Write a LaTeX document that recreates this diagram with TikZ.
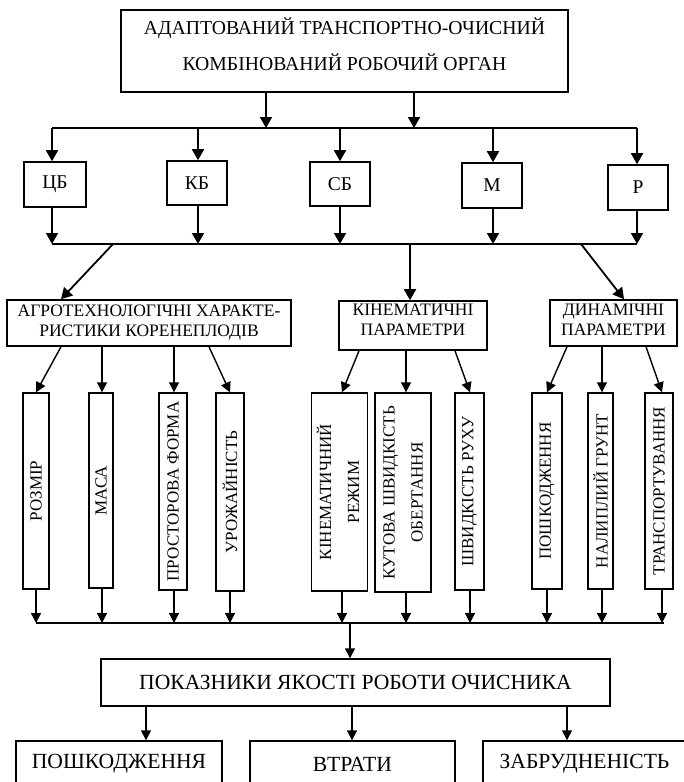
\documentclass[tikz,border=0pt]{standalone}
\usepackage{fontspec}
\setmainfont{Liberation Serif}
\usetikzlibrary{arrows.meta}
\begin{document}
\begin{tikzpicture}[x=1pt,y=-1pt,
  box/.style={draw, line width=1.6pt, inner sep=0pt, align=center},
  boxb/.style={draw, line width=1.4pt, inner sep=0pt, align=center},
  ln/.style={line width=1.8pt},
  arr/.style={line width=1.8pt, -{Triangle[length=11pt,width=12pt]}},
  lnb/.style={line width=1.4pt},
  arrb/.style={line width=1.4pt, -{Triangle[length=10pt,width=10pt]}},
  fTop/.style={font=\fontsize{19.7}{36}\selectfont},
  fSmall/.style={font=\fontsize{19.5}{22}\selectfont},
  fMid/.style={font=\fontsize{17.5}{20}\selectfont},
  fVert/.style={font=\fontsize{17}{28}\selectfont},
  fBot/.style={font=\fontsize{21.6}{24}\selectfont},
]
\useasboundingbox (0,0) rectangle (684,782);
\clip (0,0) rectangle (684,782);

% ---------- top ----------
\node[box, fTop, minimum width=447pt, minimum height=82pt, text depth=13pt] (top) at (344.5,51)
  {АДАПТОВАНИЙ ТРАНСПОРТНО-ОЧИСНИЙ\\КОМБІНОВАНИЙ РОБОЧИЙ ОРГАН};

\coordinate (u1) at (266,128);
\coordinate (u2) at (414,128);
\coordinate (t1) at (52,128);
\coordinate (t2) at (198,128);
\coordinate (t3) at (340,128);
\coordinate (t4) at (493,128);
\coordinate (t5) at (637,128);
\coordinate (s1) at (52,244);
\coordinate (s2) at (198,244);
\coordinate (s3) at (340,244);
\coordinate (s4) at (493,244);
\coordinate (s5) at (637,244);

\node[box, fSmall, minimum width=62pt, minimum height=45pt] (cb) at (55,184.5) {ЦБ};
\node[box, fSmall, minimum width=60pt, minimum height=44pt] (kb) at (197,183) {КБ};
\node[box, fSmall, minimum width=60pt, minimum height=44pt] (sb) at (340,184) {СБ};
\node[box, fSmall, minimum width=60pt, minimum height=45pt] (m) at (492,185.5) {М};
\node[box, fSmall, minimum width=60pt, minimum height=45pt] (r) at (638,187.5) {Р};

\draw[ln] (t1) -- (t5);
\draw[arr] (top.south -| u1) -- (u1);
\draw[arr] (top.south -| u2) -- (u2);
\draw[arr] (t1) -- (t1 |- cb.north);
\draw[arr] (t2) -- (t2 |- kb.north);
\draw[arr] (t3) -- (t3 |- sb.north);
\draw[arr] (t4) -- (t4 |- m.north);
\draw[arr] (t5) -- (t5 |- r.north);

\draw[arr] (cb.south -| s1) -- (s1);
\draw[arr] (kb.south -| s2) -- (s2);
\draw[arr] (sb.south -| s3) -- (s3);
\draw[arr] (m.south -| s4) -- (s4);
\draw[arr] (r.south -| s5) -- (s5);
\draw[ln] (s1) -- (s5);

% ---------- level 3 ----------
\node[box, fMid, minimum width=284pt, minimum height=46pt] (agro) at (149,323)
  {АГРОТЕХНОЛОГІЧНІ ХАРАКТЕ-\\РИСТИКИ КОРЕНЕПЛОДІВ};
\node[box, fMid, minimum width=148pt, minimum height=49pt, text depth=11pt] (kin) at (413,325.5)
  {КІНЕМАТИЧНІ\\ПАРАМЕТРИ};
\node[box, fMid, minimum width=127pt, minimum height=46pt, text depth=6pt] (dyn) at (613.5,323)
  {ДИНАМІЧНІ\\ПАРАМЕТРИ};

\coordinate (d1) at (113,244);
\coordinate (d2) at (410,244);
\coordinate (d3) at (581,244);
\coordinate (e1) at (61,0);
\coordinate (e3) at (624,0);
\draw[arr] (d1) -- (agro.north -| e1);
\draw[arr] (d2) -- (d2 |- kin.north);
\draw[arr] (d3) -- (dyn.north -| e3);

% ---------- level 4 ----------
\node[boxb, fVert, minimum width=26pt, minimum height=196pt] (rozmir) at (36,491) {\rotatebox{90}{РОЗМІР}};
\node[boxb, fVert, minimum width=24pt, minimum height=195pt] (masa) at (101,490.5) {\rotatebox{90}{МАСА}};
\node[boxb, fVert, minimum width=28pt, minimum height=197pt] (forma) at (173,491.5) {\rotatebox{90}{ПРОСТОРОВА ФОРМА}};
\node[boxb, fVert, minimum width=28pt, minimum height=198pt] (urozh) at (230,492) {\rotatebox{90}{УРОЖАЙНІСТЬ}};
\node[boxb, fVert, minimum width=47pt, minimum height=198pt] (rezhim) at (339.5,492)
  {\rotatebox{90}{\begin{tabular}{@{}c@{}}КІНЕМАТИЧНИЙ\\РЕЖИМ\end{tabular}}};
\node[boxb, fVert, minimum width=52pt, minimum height=199pt] (kutova) at (403,492.5)
  {\rotatebox{90}{\begin{tabular}{@{}c@{}}КУТОВА ШВИДКІСТЬ\\ОБЕРТАННЯ\end{tabular}}};
\node[boxb, fVert, minimum width=29pt, minimum height=197pt] (ruh) at (469.5,491.5) {\rotatebox{90}{ШВИДКІСТЬ РУХУ}};
\node[boxb, fVert, minimum width=30pt, minimum height=196pt] (poshk) at (547,491) {\rotatebox{90}{ПОШКОДЖЕННЯ}};
\node[boxb, fVert, minimum width=25pt, minimum height=196pt] (grunt) at (600.5,491) {\rotatebox{90}{НАЛИПЛИЙ ГРУНТ}};
\node[boxb, fVert, minimum width=28pt, minimum height=196pt] (trans) at (659,491) {\rotatebox{90}{ТРАНСПОРТУВАННЯ}};

% x positions of columns
\coordinate (c1) at (36,0);
\coordinate (c2) at (102,0);
\coordinate (c3) at (174,0);
\coordinate (c4) at (230,0);
\coordinate (c5) at (342,0);
\coordinate (c6) at (406,0);
\coordinate (c7) at (470,0);
\coordinate (c8) at (547,0);
\coordinate (c9) at (602,0);
\coordinate (c10) at (662,0);
% start points on parent boxes
\coordinate (g1) at (61,0);
\coordinate (g4) at (209,0);
\coordinate (g5) at (359,0);
\coordinate (g7) at (455,0);
\coordinate (g8) at (567,0);
\coordinate (g10) at (646,0);

\draw[arrb] (agro.south -| g1) -- (rozmir.north -| c1);
\draw[arrb] (agro.south -| c2) -- (masa.north -| c2);
\draw[arrb] (agro.south -| c3) -- (forma.north -| c3);
\draw[arrb] (agro.south -| g4) -- (urozh.north -| c4);
\draw[arrb] (kin.south -| g5) -- (rezhim.north -| c5);
\draw[arrb] (kin.south -| c6) -- (kutova.north -| c6);
\draw[arrb] (kin.south -| g7) -- (ruh.north -| c7);
\draw[arrb] (dyn.south -| g8) -- (poshk.north -| c8);
\draw[arrb] (dyn.south -| c9) -- (grunt.north -| c9);
\draw[arrb] (dyn.south -| g10) -- (trans.north -| c10);

% ---------- lower bus ----------
\coordinate (bL) at (36,623);
\coordinate (bR) at (664,623);
\coordinate (bM) at (350,623);
\draw[lnb] (bL) -- (bR);
\draw[arrb] (rozmir.south -| c1) -- (c1 |- bL);
\draw[arrb] (masa.south -| c2) -- (c2 |- bL);
\draw[arrb] (forma.south -| c3) -- (c3 |- bL);
\draw[arrb] (urozh.south -| c4) -- (c4 |- bL);
\draw[arrb] (rezhim.south -| c5) -- (c5 |- bL);
\draw[arrb] (kutova.south -| c6) -- (c6 |- bL);
\draw[arrb] (ruh.south -| c7) -- (c7 |- bL);
\draw[arrb] (poshk.south -| c8) -- (c8 |- bL);
\draw[arrb] (grunt.south -| c9) -- (c9 |- bL);
\draw[arrb] (trans.south -| c10) -- (c10 |- bL);

% ---------- results ----------
\node[boxb, fBot, minimum width=509pt, minimum height=47pt] (pokaz) at (355.5,682.5)
  {ПОКАЗНИКИ ЯКОСТІ РОБОТИ ОЧИСНИКА};
\draw[arrb] (bM) -- (bM |- pokaz.north);

\node[boxb, fBot, minimum width=206pt, minimum height=46pt] (q1) at (119,764) {ПОШКОДЖЕННЯ};
\node[boxb, fBot, minimum width=205pt, minimum height=46pt] (q2) at (352.5,764) {ВТРАТИ};
\node[boxb, fBot, minimum width=203pt, minimum height=46pt] (q3) at (584.5,764) {ЗАБРУДНЕНІСТЬ};

\coordinate (h1) at (146,0);
\coordinate (h2) at (352,0);
\coordinate (h3) at (567,0);
\draw[arrb] (pokaz.south -| h1) -- (q1.north -| h1);
\draw[arrb] (pokaz.south -| h2) -- (q2.north -| h2);
\draw[arrb] (pokaz.south -| h3) -- (q3.north -| h3);
\end{tikzpicture}
\end{document}
